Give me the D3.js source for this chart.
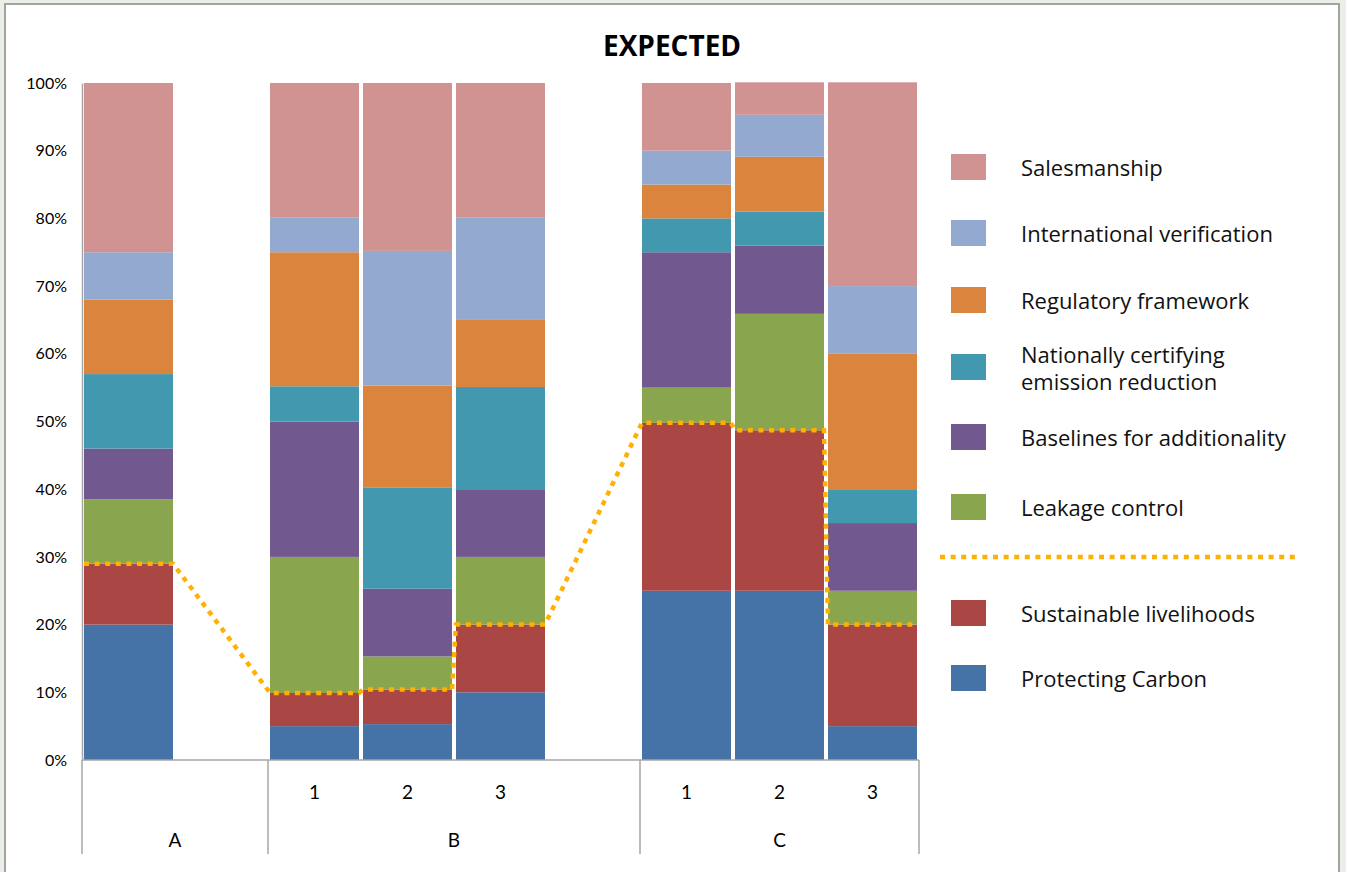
<!DOCTYPE html>
<html>
<head>
<meta charset="utf-8">
<script src="https://cdn.jsdelivr.net/npm/d3@7"></script>
<style>
  html, body { margin: 0; padding: 0; background: #EAF0E7; }
  svg { display: block; }
</style>
</head>
<body>
<svg id="chart" width="1346" height="872"></svg>
<script>
// ---------- DATA ----------
const slotGroups = ["A", "A", "B", "B", "B", "B", "C", "C", "C"];
const slotLabels = ["", "", "1", "2", "3", "", "1", "2", "3"];
const groupNames = ["A", "B", "C"];
const seriesNames = [
  "Protecting Carbon",
  "Sustainable livelihoods",
  "Leakage control",
  "Baselines for additionality",
  "Nationally certifying emission reduction",
  "Regulatory framework",
  "International verification",
  "Salesmanship"
];
const seriesColors = ["#4572A7", "#AA4643", "#89A54E", "#71588F", "#4198AF", "#DB843D", "#93A9CF", "#D19392"];
// values in % per slot (null = empty slot)
const protectingCarbon      = [20,   null, 5,    5.3,  10,   null, 25,   25,   5];
const sustainableLivelihoods= [9,    null, 4.9,  5.1,  10,   null, 24.8, 23.7, 15];
const leakageControl        = [9.5,  null, 20.1, 4.9,  10,   null, 5.2,  17.2, 5];
const baselines             = [7.5,  null, 20,   10,   10,   null, 20,   10.1, 10];
const nationallyCertifying  = [11,   null, 5.2,  14.9, 15.1, null, 5,    5,    5];
const regulatoryFramework   = [11,   null, 19.8, 15.1, 9.9,  null, 5,    8.1,  20];
const internationalVerif    = [7,    null, 5.1,  19.9, 15.1, null, 5,    6.2,  10];
const salesmanship          = [25,   null, 19.9, 24.8, 19.9, null, 10,   4.8,  30.1];
const yTicks = [0, 0.1, 0.2, 0.3, 0.4, 0.5, 0.6, 0.7, 0.8, 0.9, 1.0];
const chartTitle = "EXPECTED";

// ---------- LAYOUT ----------
const svg = d3.select("#chart");
const plot = { left: 82, right: 919, top: 83, bottom: 760 };
const fontTick = "Lato, 'Open Sans', sans-serif";
const fontLegend = "'Open Sans', Lato, sans-serif";

// frame
svg.append("rect").attr("x", 5).attr("y", 4).attr("width", 1334).attr("height", 880)
  .attr("fill", "#ffffff").attr("stroke", "#A3A3A3").attr("stroke-width", 2);

// title
svg.append("text").attr("x", 672).attr("y", 56).attr("text-anchor", "middle")
  .attr("font-family", fontLegend).attr("font-weight", 700).attr("font-size", 28)
  .attr("fill", "#000").text(chartTitle);

const slots = d3.range(slotGroups.length);
const x = d3.scaleBand().domain(slots).range([plot.left, plot.right])
  .paddingInner(0.043).paddingOuter(0.0215);
const y = d3.scaleLinear().domain([0, 1]).range([plot.bottom, plot.top]);

const seriesArrays = [protectingCarbon, sustainableLivelihoods, leakageControl, baselines,
  nationallyCertifying, regulatoryFramework, internationalVerif, salesmanship];

const rows = slots.filter(i => protectingCarbon[i] !== null).map(i => {
  const r = { slot: i };
  seriesNames.forEach((n, k) => r[n] = seriesArrays[k][i] / 100);
  return r;
});

const stack = d3.stack().keys(seriesNames);
const stacked = stack(rows);

const barsG = svg.append("g");
barsG.selectAll("g.series").data(stacked).join("g")
  .attr("class", "series")
  .attr("fill", (d, i) => seriesColors[i])
  .selectAll("rect").data(d => d).join("rect")
  .attr("x", d => x(d.data.slot))
  .attr("width", x.bandwidth())
  .attr("y", d => y(d[1]))
  .attr("height", d => y(d[0]) - y(d[1]));

// y axis
const yAxis = d3.axisLeft(y).tickValues(yTicks).tickFormat(d3.format(".0%")).tickSize(0).tickPadding(15);
const yg = svg.append("g").attr("transform", `translate(${plot.left},0)`).call(yAxis);
yg.select(".domain").attr("stroke", "#A6A6A6").attr("stroke-width", 1.5);
yg.selectAll("text").attr("font-family", fontTick).attr("font-size", 16).attr("fill", "#000");

// x axis (sub labels)
const xAxis = d3.axisBottom(x).tickFormat(i => slotLabels[i]).tickSize(0).tickPadding(26);
const xg = svg.append("g").attr("transform", `translate(0,${plot.bottom})`).call(xAxis);
xg.select(".domain").remove();
xg.selectAll("text").attr("font-family", fontTick).attr("font-size", 19).attr("fill", "#000");
svg.append("line").attr("x1", plot.left).attr("x2", plot.right)
  .attr("y1", plot.bottom).attr("y2", plot.bottom)
  .attr("stroke", "#A6A6A6").attr("stroke-width", 1.5);

// group labels & separators
const groupSpans = groupNames.map(g => {
  const idx = slots.filter(i => slotGroups[i] === g);
  const s = x.step();
  const start = plot.left + d3.min(idx) * s;
  const end = plot.left + (d3.max(idx) + 1) * s;
  return { name: g, start, end };
});
const sepXs = [groupSpans[0].start, ...groupSpans.map(g => g.end)];
svg.selectAll("line.sep").data(sepXs).join("line").attr("class", "sep")
  .attr("x1", d => d).attr("x2", d => d).attr("y1", plot.bottom).attr("y2", 854)
  .attr("stroke", "#A6A6A6").attr("stroke-width", 1.5);
svg.selectAll("text.grp").data(groupSpans).join("text").attr("class", "grp")
  .attr("x", d => (d.start + d.end) / 2).attr("y", 847).attr("text-anchor", "middle")
  .attr("font-family", fontTick).attr("font-size", 19).attr("fill", "#000")
  .text(d => d.name);

// dotted line along top of "Sustainable livelihoods"
const sustTop = stacked[1];
const linePts = [];
sustTop.forEach(d => {
  linePts.push([x(d.data.slot), y(d[1])]);
  linePts.push([x(d.data.slot) + x.bandwidth(), y(d[1])]);
});
const dotColor = "#FFB000";
svg.append("path").attr("d", d3.line()(linePts))
  .attr("fill", "none").attr("stroke", dotColor).attr("stroke-width", 4.5)
  .attr("stroke-dasharray", "5 5.6");

// legend
const legendOrder = [7, 6, 5, 4, 3, 2, "line", 1, 0];
const legendY = [167, 233, 300, 367, 437, 507, 557, 613, 678];
const lg = svg.append("g");
legendOrder.forEach((k, j) => {
  const cy = legendY[j];
  if (k === "line") {
    lg.append("line").attr("x1", 940).attr("x2", 1296).attr("y1", cy).attr("y2", cy)
      .attr("stroke", dotColor).attr("stroke-width", 4.5).attr("stroke-dasharray", "5 5.6");
    return;
  }
  lg.append("rect").attr("x", 951).attr("y", cy - 13).attr("width", 35).attr("height", 26)
    .attr("fill", seriesColors[k]);
  const name = seriesNames[k];
  const t = lg.append("text").attr("x", 1021).attr("font-family", fontLegend)
    .attr("font-size", 22).attr("fill", "#111");
  if (name === "Nationally certifying emission reduction") {
    t.append("tspan").attr("x", 1021).attr("y", cy - 4).text("Nationally certifying");
    t.append("tspan").attr("x", 1021).attr("y", cy + 23).text("emission reduction");
  } else {
    t.attr("y", cy + 9).text(name);
  }
});
</script>
</body>
</html>
